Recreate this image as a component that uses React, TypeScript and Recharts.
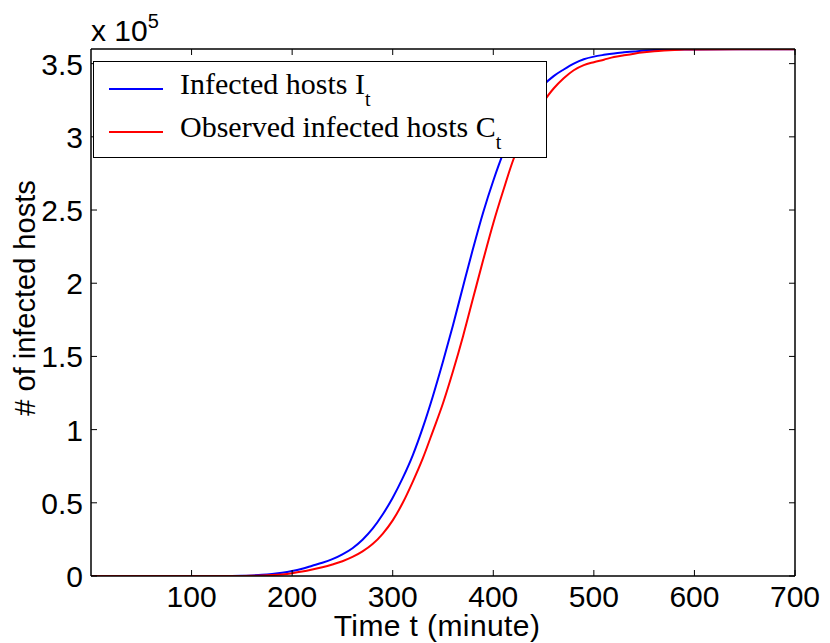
import React from 'react'
import { LineChart, Line, XAxis, YAxis, Legend } from 'recharts'

// time in minutes, host counts
const minutes = [
  0, 50, 100, 140, 150, 160, 170, 180, 190, 200, 210, 220, 230, 240, 250, 260, 270, 280, 290, 300,
  310, 320, 330, 340, 350, 360, 370, 380, 390, 400, 410, 420, 430, 440, 450, 460, 470, 480, 490, 500,
  510, 520, 530, 540, 550, 560, 570, 580, 590, 600, 650, 700,
]

const infectedHosts = [
  0, 0, 0, 0, 100, 400, 800, 1400, 2200, 3400, 5000, 7000, 9000, 11500, 14800, 19000, 24800, 32300, 42000, 53500,
  67000, 82600, 101500, 123000, 146500, 171500, 198000, 224000, 248500, 270000, 289000, 304500, 317000, 327500, 335500, 341500, 346000, 350000, 353000, 354800,
  356000, 357000, 357700, 358300, 358900, 359300, 359500, 359600, 359700, 359700, 359800, 359800,
]

const observedHosts = [
  0, 0, 0, 0, 0, 100, 300, 600, 1100, 1900, 3000, 4400, 6000, 7900, 10100, 13000, 16800, 21800, 28800, 38000,
  50000, 64500, 80500, 99000, 118000, 140000, 164000, 190000, 216000, 241000, 263500, 284500, 300500, 313500, 324000, 333000, 340000, 345500, 349000, 351000,
  352700, 354500, 355700, 356800, 357700, 358400, 358900, 359300, 359600, 359700, 359800, 359800,
]

const xTicks = [100, 200, 300, 400, 500, 600, 700]
const yTicks = [0, 50000, 100000, 150000, 200000, 250000, 300000, 350000]

const sansFont = '"Liberation Sans", Arial, Helvetica, sans-serif'
const serifFont = '"Liberation Serif", "Times New Roman", serif'

const chartData = minutes.map((t, i) => ({
  t,
  infected: infectedHosts[i],
  observed: observedHosts[i],
}))

const TICK_LEN = 6
const FONT_SIZE = 30

// MATLAB style ticks: short marks pointing into the plot
function BottomTick({ x, y, payload }: any) {
  return (
    <g>
      <line x1={x} x2={x} y1={y} y2={y - TICK_LEN} stroke="#000" />
      <text x={x} y={y + 31} textAnchor="middle" fontSize={FONT_SIZE} fontFamily={sansFont} fill="#000">
        {payload.value}
      </text>
    </g>
  )
}

function TopTick({ x, y }: any) {
  return <line x1={x} x2={x} y1={y} y2={y + TICK_LEN} stroke="#000" />
}

function LeftTick({ x, y, payload }: any) {
  return (
    <g>
      <line x1={x} x2={x + TICK_LEN} y1={y} y2={y} stroke="#000" />
      <text x={x - 8} y={y + 11} textAnchor="end" fontSize={FONT_SIZE} fontFamily={sansFont} fill="#000">
        {String(payload.value / 100000)}
      </text>
    </g>
  )
}

function RightTick({ x, y }: any) {
  return <line x1={x} x2={x - TICK_LEN} y1={y} y2={y} stroke="#000" />
}

function LegendBox() {
  const rows = [
    { color: '#0000ff', text: 'Infected hosts I', top: 7 },
    { color: '#ff0000', text: 'Observed infected hosts C', top: 50 },
  ]
  return (
    <div
      style={{
        position: 'relative',
        width: 452,
        height: 95,
        border: '1.5px solid #000',
        background: '#fff',
        fontFamily: serifFont,
        fontSize: 30,
        lineHeight: '30px',
        color: '#000',
      }}
    >
      {rows.map(r => (
        <div key={r.text}>
          <div
            style={{
              position: 'absolute',
              left: 15,
              top: r.top + 19,
              width: 54,
              height: 2,
              background: r.color,
            }}
          />
          <div style={{ position: 'absolute', left: 86, top: r.top, whiteSpace: 'nowrap' }}>
            {r.text}
            <span style={{ fontSize: 20, position: 'relative', top: 12 }}>t</span>
          </div>
        </div>
      ))}
    </div>
  )
}

export default function App() {
  return (
    <div style={{ position: 'absolute', left: 0, top: 0, background: '#fff' }}>
      <LineChart
        width={830}
        height={643}
        data={chartData}
        margin={{ top: 48, right: 34, bottom: 0, left: 0 }}
      >
        <XAxis
          dataKey="t"
          type="number"
          domain={[0, 700]}
          ticks={xTicks}
          interval={0}
          allowDataOverflow
          height={67}
          tickSize={0}
          tickMargin={0}
          tick={BottomTick}
          tickLine={false}
          axisLine={{ stroke: '#000', strokeWidth: 1.5 }}
          label={{
            content: () => (
              <text
                x={437}
                y={636}
                textAnchor="middle"
                fontSize={FONT_SIZE}
                letterSpacing={0.4}
                fontFamily={sansFont}
                fill="#000"
              >
                Time t (minute)
              </text>
            ),
          }}
        />
        <XAxis
          xAxisId="top"
          orientation="top"
          dataKey="t"
          type="number"
          domain={[0, 700]}
          ticks={xTicks}
          interval={0}
          allowDataOverflow
          height={1}
          tickSize={0}
          tickMargin={0}
          tick={TopTick}
          tickLine={false}
          axisLine={{ stroke: '#000', strokeWidth: 1.5 }}
          label={{
            content: () => (
              <text x={91} y={41} fontSize={FONT_SIZE} fontFamily={sansFont} fill="#000">
                x 10
                <tspan fontSize={20} dy={-13}>5</tspan>
              </text>
            ),
          }}
        />
        <YAxis
          type="number"
          domain={[0, 360000]}
          ticks={yTicks}
          interval={0}
          allowDataOverflow
          width={91}
          tickSize={0}
          tickMargin={0}
          tick={LeftTick}
          tickLine={false}
          axisLine={{ stroke: '#000', strokeWidth: 1.5 }}
          label={{
            content: () => (
              <text
                x={35}
                y={298}
                transform="rotate(-90 35 298)"
                textAnchor="middle"
                fontSize={29}
                fontFamily={sansFont}
                fill="#000"
              >
                # of infected hosts
              </text>
            ),
          }}
        />
        <YAxis
          yAxisId="right"
          orientation="right"
          type="number"
          domain={[0, 360000]}
          ticks={yTicks}
          interval={0}
          allowDataOverflow
          width={1}
          tickSize={0}
          tickMargin={0}
          tick={RightTick}
          tickLine={false}
          axisLine={{ stroke: '#000', strokeWidth: 1.5 }}
        />
        <Line
          type="monotone"
          dataKey="infected"
          stroke="#0000ff"
          strokeWidth={2}
          dot={false}
          isAnimationActive={false}
        />
        <Line
          type="monotone"
          dataKey="observed"
          stroke="#ff0000"
          strokeWidth={2}
          dot={false}
          isAnimationActive={false}
        />
        <Legend
          layout="horizontal"
          verticalAlign="middle"
          align="center"
          content={() => <LegendBox />}
          wrapperStyle={{ left: 93, top: 61, width: 454, height: 97 }}
        />
      </LineChart>
    </div>
  )
}
